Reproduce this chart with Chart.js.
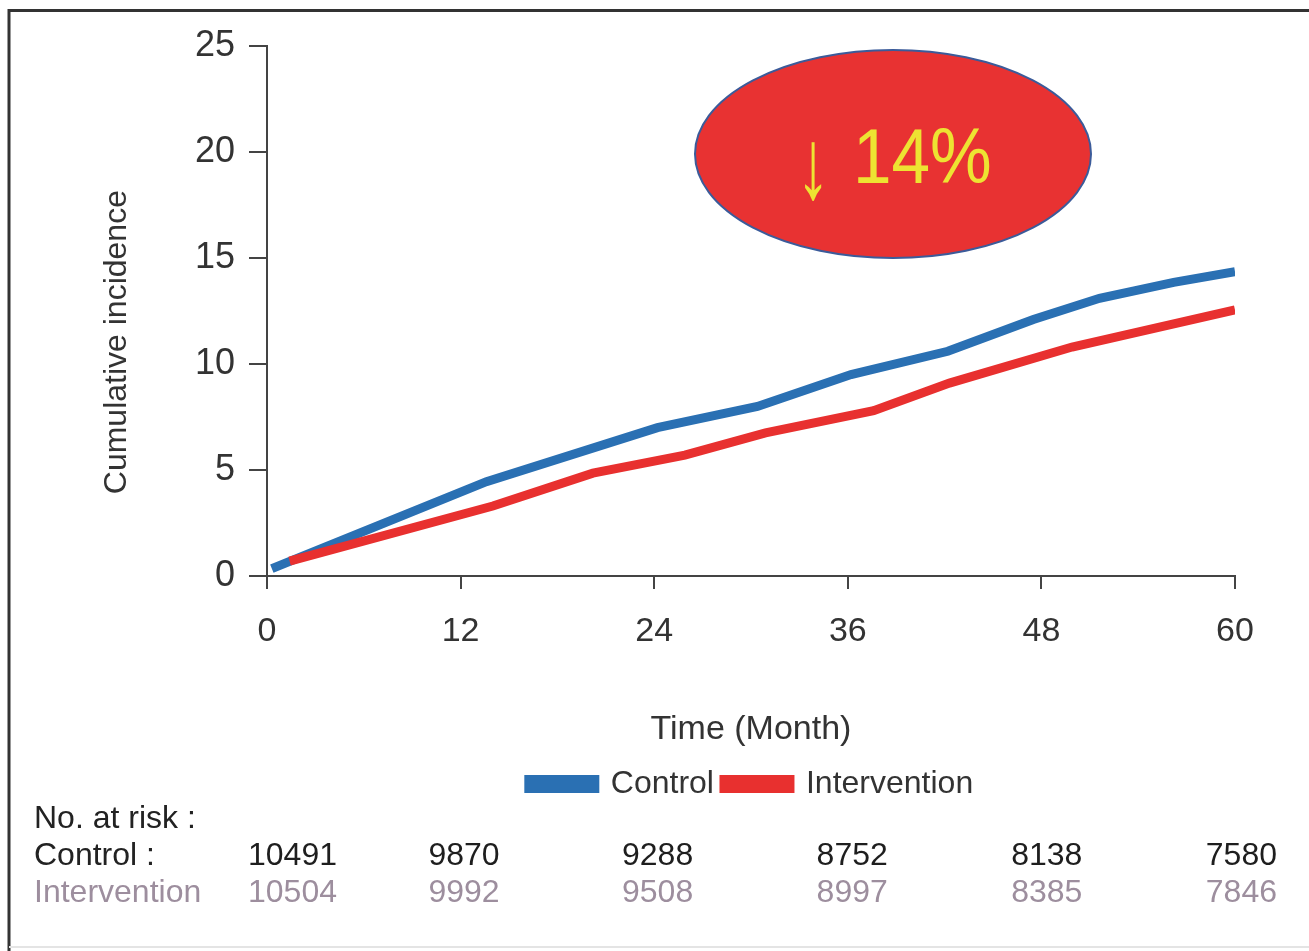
<!DOCTYPE html>
<html>
<head>
<meta charset="utf-8">
<script src="https://cdn.jsdelivr.net/npm/chart.js@4"></script>
<style>
html,body{margin:0;padding:0;background:#fff;}
#wrap{width:1309px;height:951px;position:relative;}
canvas{display:block;}
</style>
</head>
<body>
<div id="wrap"><canvas id="c" width="1309" height="951"></canvas></div>
<script>
// ---- data ----
const seriesNames = ["Control", "Intervention"];
const controlMonths = [0.3, 13.6, 24.2, 30.4, 36.2, 42.2, 47.5, 51.6, 56.2, 60];
const controlValues = [0.35, 4.45, 7.0, 8.0, 9.5, 10.6, 12.1, 13.1, 13.85, 14.35];
const interventionMonths = [1.4, 14.0, 20.2, 25.9, 30.9, 37.6, 42.3, 49.9, 60];
const interventionValues = [0.7, 3.3, 4.85, 5.7, 6.75, 7.8, 9.1, 10.8, 12.55];
const xTicks = [0, 12, 24, 36, 48, 60];
const yTicks = [0, 5, 10, 15, 20, 25];
const riskHeader = "No. at risk :";
const riskLabels = ["Control :", "Intervention"];
const riskControl = [10491, 9870, 9288, 8752, 8138, 7580];
const riskIntervention = [10504, 9992, 9508, 8997, 8385, 7846];
const badgeText = "14%";
const badgeArrow = "\u2193";

const blue = "#2a70b3";
const red = "#e8302f";
const FONT = '"Liberation Sans", Arial, sans-serif';

function pts(xs, ys){ return xs.map((x,i)=>({x:x, y:ys[i]})); }

const overlay = {
  id: 'overlay',
  afterDraw(chart){
    const ctx = chart.ctx;
    const xs = chart.scales.x;
    ctx.save();
    // frame
    ctx.strokeStyle = '#333';
    ctx.lineWidth = 3;
    ctx.beginPath();
    ctx.moveTo(9, 951); ctx.lineTo(9, 10.5); ctx.lineTo(1309, 10.5);
    ctx.stroke();
    ctx.strokeStyle = '#e4e4e4';
    ctx.lineWidth = 2;
    ctx.beginPath(); ctx.moveTo(9, 947); ctx.lineTo(1309, 947); ctx.stroke();

    // badge ellipse
    ctx.beginPath();
    ctx.ellipse(893, 154, 198, 104, 0, 0, Math.PI*2);
    ctx.fillStyle = '#e83232';
    ctx.fill();
    ctx.lineWidth = 2;
    ctx.strokeStyle = '#3b5b9a';
    ctx.stroke();
    ctx.fillStyle = '#ede332';
    ctx.textBaseline = 'alphabetic';
    ctx.textAlign = 'center';
    ctx.save();
    ctx.translate(813, 198);
    ctx.scale(0.95, 1.38);
    ctx.font = '72px ' + FONT;
    ctx.fillText(badgeArrow, 0, 0);
    ctx.restore();
    ctx.textAlign = 'left';
    ctx.save();
    ctx.translate(853, 183);
    ctx.scale(0.9, 1);
    ctx.font = '77px ' + FONT;
    ctx.fillText(badgeText, 0, 0);
    ctx.restore();

    // risk table
    ctx.textBaseline = 'middle';
    ctx.font = '32px ' + FONT;
    ctx.textAlign = 'left';
    ctx.fillStyle = '#222';
    ctx.fillText(riskHeader, 34, 819);
    ctx.fillText(riskLabels[0], 34, 856);
    ctx.fillStyle = '#9d8e9e';
    ctx.fillText(riskLabels[1], 34, 893);
    const offs = [70, 39, 39, 40, 41, 42];
    ctx.textAlign = 'right';
    xTicks.forEach((t,i)=>{
      const px = xs.getPixelForValue(t) + offs[i];
      ctx.fillStyle = '#1e1e1e';
      ctx.fillText(String(riskControl[i]), px, 856);
      ctx.fillStyle = '#9d8e9e';
      ctx.fillText(String(riskIntervention[i]), px, 893);
    });
    ctx.restore();
  }
};

new Chart(document.getElementById('c'), {
  type: 'line',
  data: {
    datasets: [
      { label: seriesNames[0], data: pts(controlMonths, controlValues), borderColor: blue, backgroundColor: blue,
        borderWidth: 9, pointRadius: 0, tension: 0, order: 1, borderCapStyle: 'butt' },
      { label: seriesNames[1], data: pts(interventionMonths, interventionValues), borderColor: red, backgroundColor: red,
        borderWidth: 9, pointRadius: 0, tension: 0, order: 0, borderCapStyle: 'butt' }
    ]
  },
  options: {
    responsive: false,
    animation: false,
    devicePixelRatio: 1,
    layout: { padding: { left: 0, top: 46, right: 74, bottom: 141 } },
    plugins: {
      tooltip: { enabled: false },
      legend: {
        position: 'bottom',
        fullSize: false,
        labels: {
          boxWidth: 66, boxHeight: 9, color: '#333',
          font: { size: 32, family: FONT },
          padding: 10,
          sort: (a, b) => a.datasetIndex - b.datasetIndex
        }
      }
    },
    scales: {
      x: {
        type: 'linear', min: 0, max: 60,
        afterBuildTicks(s){ s.ticks = xTicks.map(v=>({value:v})); },
        afterFit(s){ s.height = 182; },
        ticks: { color: '#333', padding: 22, maxRotation: 0, font: { size: 34, family: FONT } },
        grid: { drawOnChartArea: false, drawTicks: true, tickLength: 13, color: '#444', lineWidth: 2 },
        border: { color: '#444', width: 2 },
        title: { display: true, text: 'Time (Month)', color: '#333', padding: { top: 0, bottom: 8 },
          font: { size: 34, family: FONT } }
      },
      y: {
        min: 0, max: 25,
        afterBuildTicks(s){ s.ticks = yTicks.map(v=>({value:v})); },
        afterFit(s){ s.width = 267; },
        ticks: { color: '#333', padding: 14, font: { size: 36, family: FONT } },
        grid: { drawOnChartArea: false, drawTicks: true, tickLength: 18, color: '#444', lineWidth: 2 },
        border: { color: '#444', width: 2 },
        title: { display: true, text: 'Cumulative incidence       ', color: '#333', padding: { top: 98, bottom: 0 },
          font: { size: 32, family: FONT } }
      }
    }
  },
  plugins: [overlay]
});
</script>
</body>
</html>
